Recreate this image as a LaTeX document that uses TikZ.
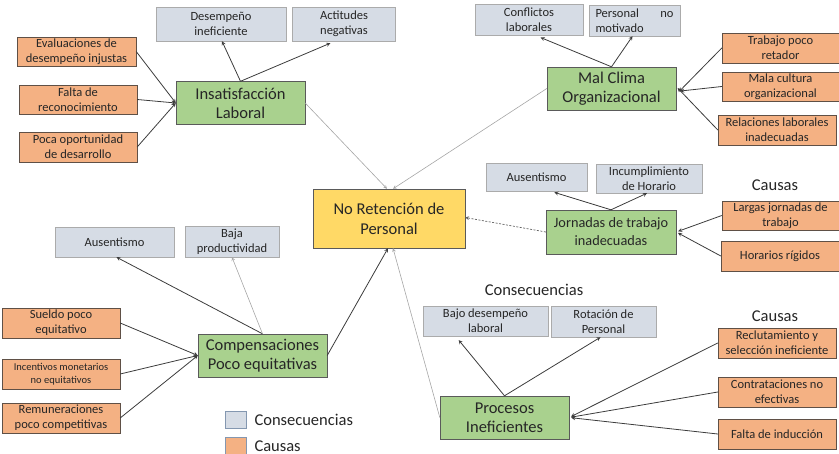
\documentclass[tikz,border=0pt]{standalone}
\usepackage{fontspec}
\setmainfont{Carlito}
\usepackage{xcolor}
\usepackage{tikz}
\usetikzlibrary{arrows}

\definecolor{consAzul}{HTML}{D6DCE5}
\definecolor{consBorde}{HTML}{ABABAB}
\definecolor{causaNaranja}{HTML}{F4B183}
\definecolor{causaBorde}{HTML}{5F5046}
\definecolor{verde}{HTML}{A9D18E}
\definecolor{verdeBorde}{HTML}{5A5A5A}
\definecolor{amarillo}{HTML}{FFD966}
\definecolor{lineaOscura}{HTML}{3C3C3C}
\definecolor{lineaClara}{HTML}{A6A6A6}
\definecolor{textoGris}{HTML}{262626}
\definecolor{leyendaBorde}{HTML}{8497B0}

\begin{document}
\begin{tikzpicture}[x=1pt, y=-1pt]
\tikzstyle{consecuencia} = [rectangle, minimum height=30pt, text centered, align=center, inner sep=1pt, draw=consBorde, fill=consAzul, text=textoGris, font=\fontsize{12.5}{15}\selectfont]
\tikzstyle{causa} = [rectangle, minimum width=118pt, minimum height=30pt, text centered, align=center, inner sep=1pt, draw=causaBorde, fill=causaNaranja, text=textoGris, font=\fontsize{12.5}{15}\selectfont]
\tikzstyle{problema} = [rectangle, minimum width=129pt, minimum height=43pt, text centered, align=center, inner sep=1pt, draw=verdeBorde, fill=verde, text=textoGris, font=\fontsize{16.5}{19}\selectfont]
\tikzstyle{central} = [rectangle, minimum width=152pt, minimum height=59pt, text centered, align=center, draw=verdeBorde, fill=amarillo, text=textoGris, font=\fontsize{16.5}{20}\selectfont]
\tikzstyle{titulo} = [text=textoGris, font=\fontsize{16.5}{19}\selectfont]
\tikzstyle{flecha} = [->, >=stealth, line width=0.8pt, draw=lineaOscura]
\tikzstyle{flechaGris} = [->, >=stealth, line width=0.6pt, draw=lineaClara]
\tikzstyle{flechaPunteada} = [->, >=stealth, line width=0.7pt, draw=lineaOscura!80, dashed, dash pattern=on 2pt off 1.5pt]

\useasboundingbox (0,0) rectangle (839,454);

% problema central
\node (noRetencion) [central] at (389,218.5) {No Retención de\\Personal};

% insatisfaccion laboral
\node (insatisfaccion) [problema] at (240.5,103) {Insatisfacción\\Laboral};
\node (desempeno) [consecuencia, minimum width=130pt, minimum height=34pt] at (221,24) {Desempeño\\ineficiente};
\node (actitudes) [consecuencia, minimum width=103pt, minimum height=34pt] at (344,24) {Actitudes\\negativas};
\node (evaluaciones) [causa, minimum width=119pt, minimum height=29pt] at (76.5,51.5) {Evaluaciones de\\desempeño injustas};
\node (faltaReconocimiento) [causa, minimum height=29pt] at (78,99.5) {Falta de\\reconocimiento};
\node (pocaOportunidad) [causa] at (78,147) {Poca oportunidad\\de desarrollo};

% mal clima organizacional
\node (malClima) [problema] at (611.5,88.5) {Mal Clima\\Organizacional};
\node (conflictos) [consecuencia, minimum width=108pt, minimum height=31pt] at (529,19.5) {Conflictos\\laborales};
\node (personalNoMotivado) [consecuencia, minimum width=91pt, minimum height=31pt, text width=78pt, align=left] at (634.5,20.5) {Personal\hfill no\\motivado};
\node (trabajoPoco) [causa, minimum width=117pt] at (780.5,48) {Trabajo poco\\retador};
\node (malaCultura) [causa, minimum width=117pt, minimum height=29pt] at (780.5,86.5) {Mala cultura\\organizacional};
\node (relaciones) [causa] at (777,130) {Relaciones laborales\\inadecuadas};

% jornadas de trabajo
\node (jornadas) [problema, minimum width=130pt, minimum height=44pt, font=\fontsize{14.3}{18}\selectfont] at (611,232) {Jornadas de trabajo\\inadecuadas};
\node (ausentismoJ) [consecuencia, minimum width=101pt, minimum height=28pt] at (536.5,177) {Ausentismo};
\node (incumplimiento) [consecuencia, minimum width=106pt, minimum height=29pt] at (649,178.5) {Incumplimiento\\de Horario};
\node (causasJ) [titulo] at (775,185) {Causas};
\node (largas) [causa, minimum width=117pt, minimum height=29pt] at (780.5,215.5) {Largas jornadas de\\trabajo};
\node (horarios) [causa] at (780,256) {Horarios rígidos};

% procesos ineficientes
\node (procesos) [problema] at (504.5,417.5) {Procesos\\Ineficientes};
\node (consecuenciasP) [titulo] at (534,290) {Consecuencias};
\node (bajoDesempeno) [consecuencia, minimum width=125pt] at (485.5,321) {Bajo desempeño\\laboral};
\node (rotacion) [consecuencia, minimum width=105pt, minimum height=31pt] at (603.5,321.5) {Rotación de\\Personal};
\node (causasP) [titulo] at (775,316) {Causas};
\node (reclutamiento) [causa] at (777,343) {Reclutamiento y\\selección ineficiente};
\node (contrataciones) [causa] at (777,392) {Contrataciones no\\efectivas};
\node (faltaInduccion) [causa] at (777,434) {Falta de inducción};

% compensaciones
\node (compensaciones) [problema] at (262.5,355.5) {Compensaciones\\Poco equitativas};
\node (ausentismoC) [consecuencia, minimum width=119pt] at (114.5,242) {Ausentismo};
\node (bajaProductividad) [consecuencia, minimum width=94pt, minimum height=31pt] at (232,241.5) {Baja\\productividad};
\node (sueldo) [causa] at (61,323) {Sueldo poco\\equitativo};
\node (incentivos) [causa, font=\fontsize{10.5}{13}\selectfont] at (61,374) {Incentivos monetarios\\no equitativos};
\node (remuneraciones) [causa] at (61,418) {Remuneraciones\\poco competitivas};

% leyenda
\node (cuadroCons) [rectangle, minimum width=21pt, minimum height=17pt, inner sep=0pt, draw=leyendaBorde, fill=consAzul] at (235.5,419.5) {};
\node (cuadroCausa) [rectangle, minimum width=21pt, minimum height=17pt, inner sep=0pt, draw=leyendaBorde, fill=causaNaranja] at (235.5,445.5) {};
\node (textoCons) [titulo, anchor=west] at (251,420) {Consecuencias};
\node (textoCausa) [titulo, anchor=west] at (251,446) {Causas};

% flechas hacia el problema central
\draw [flechaGris] (insatisfaccion.east) -- ([xshift=-2pt]noRetencion.north);
\draw [flechaGris] (malClima.west) -- ([xshift=4pt]noRetencion.north);
\draw [flechaPunteada] (jornadas.west) -- ([yshift=1pt]noRetencion.east);
\draw [flecha] (compensaciones.east) -- ([xshift=-1pt]noRetencion.south);
\draw [flechaGris] (procesos.west) -- ([xshift=4pt]noRetencion.south);

% insatisfaccion
\draw [flecha] (insatisfaccion.north) -- ([xshift=1pt]desempeno.south);
\draw [flecha, shorten >=5pt] (insatisfaccion.north) -- ([xshift=-9pt]actitudes.south);
\draw [flecha] (evaluaciones.east) -- (insatisfaccion.west);
\draw [flecha] (faltaReconocimiento.east) -- (insatisfaccion.west);
\draw [flecha] (pocaOportunidad.east) -- (insatisfaccion.west);

% mal clima
\draw [flecha, shorten >=6pt] (malClima.north) -- ([xshift=6pt]conflictos.south);
\draw [flecha] (malClima.north) -- ([xshift=-2pt]personalNoMotivado.south);
\draw [flecha, shorten >=4pt] (trabajoPoco.west) -- ([yshift=-6pt]malClima.east);
\draw [flecha, shorten >=4pt] (malaCultura.west) -- ([yshift=-3pt]malClima.east);
\draw [flecha, shorten >=2pt] (relaciones.west) -- ([yshift=2pt]malClima.east);

% jornadas
\draw [flecha, shorten >=4pt] (jornadas.north) -- ([xshift=14pt]ausentismoJ.south);
\draw [flecha] (jornadas.north) -- ([xshift=-2pt]incumplimiento.south);
\draw [flecha, shorten >=2pt] (largas.west) -- (jornadas.east);
\draw [flecha, shorten >=2pt] (horarios.west) -- (jornadas.east);

% procesos
\draw [flecha, shorten >=5pt] (procesos.north) -- ([xshift=-30pt]bajoDesempeno.south);
\draw [flecha] (procesos.north) -- ([xshift=-3pt]rotacion.south);
\draw [flecha, shorten >=2pt] (reclutamiento.west) -- (procesos.east);
\draw [flecha, shorten >=2pt] (contrataciones.west) -- (procesos.east);
\draw [flecha, shorten >=2pt] (faltaInduccion.west) -- (procesos.east);

% compensaciones
\draw [flecha] (compensaciones.north) -- ([xshift=2pt]ausentismoC.south);
\draw [flechaGris] (compensaciones.north) -- (bajaProductividad.south);
\draw [flecha] (sueldo.east) -- (compensaciones.west);
\draw [flecha] (incentivos.east) -- (compensaciones.west);
\draw [flecha] (remuneraciones.east) -- (compensaciones.west);

\end{tikzpicture}
\end{document}
